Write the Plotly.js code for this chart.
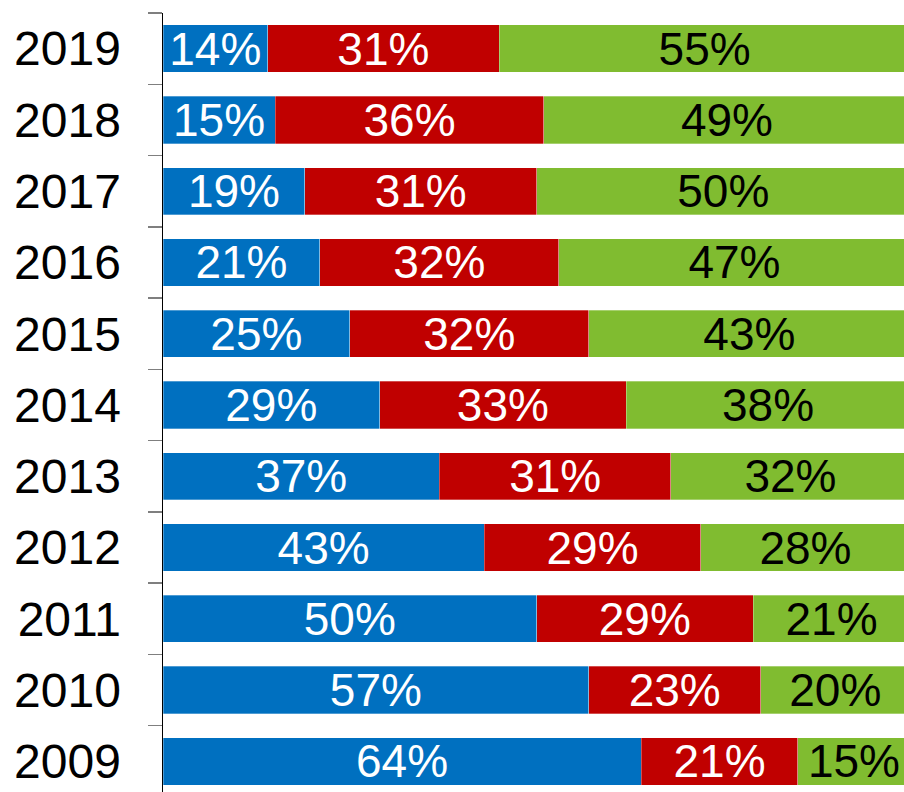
<!DOCTYPE html>
<html>
<head>
<meta charset="utf-8">
<script src="https://cdn.plot.ly/plotly-3.0.1.min.js"></script>
<style>
html, body { margin: 0; padding: 0; overflow: hidden; background: #fff; }
#chart { width: 911px; height: 800px; }
</style>
</head>
<body>
<div id="chart"></div>
<script>
const years = ['2009','2010','2011','2012','2013','2014','2015','2016','2017','2018','2019'];
const blueVals  = [64, 57, 50, 43, 37, 29, 25, 21, 19, 15, 14];
const redVals   = [21, 23, 29, 29, 31, 33, 32, 32, 31, 36, 31];
const greenVals = [15, 20, 21, 28, 32, 38, 43, 47, 50, 49, 55];

const FONT = 'Liberation Sans, Arial, sans-serif';

function series(vals, color, textColor) {
  return {
    type: 'bar',
    orientation: 'h',
    y: years,
    x: vals,
    marker: { color: color, line: { color: 'rgba(255,255,255,0.6)', width: 0.5 } },
    texttemplate: '%{x}%',
    textposition: 'inside',
    insidetextanchor: 'middle',
    constraintext: 'none',
    textfont: { family: FONT, size: 46, color: textColor },
    hoverinfo: 'skip',
    showlegend: false
  };
}

const data = [
  series(blueVals, '#0070C0', '#ffffff'),
  series(redVals, '#C00000', '#ffffff'),
  series(greenVals, '#80BC30', '#000000')
];

const layout = {
  width: 911,
  height: 800,
  margin: { l: 163, r: 1, t: 13, b: 3, pad: 0 },
  barmode: 'stack',
  bargap: 0.336,
  paper_bgcolor: '#ffffff',
  plot_bgcolor: '#ffffff',
  font: { family: FONT, color: '#000' },
  xaxis: {
    range: [0, 100],
    visible: false,
    fixedrange: true
  },
  yaxis: {
    type: 'category',
    showline: true,
    linecolor: '#000',
    linewidth: 1.5,
    ticks: 'outside',
    tickson: 'boundaries',
    ticklen: 14,
    tickcolor: '#7f7f7f',
    tickwidth: 1.5,
    ticklabelstandoff: 31,
    tickfont: { family: FONT, size: 48, color: '#000' },
    showgrid: false,
    zeroline: false,
    fixedrange: true
  }
};

Plotly.newPlot('chart', data, layout, { displayModeBar: false, staticPlot: true });
</script>
</body>
</html>
